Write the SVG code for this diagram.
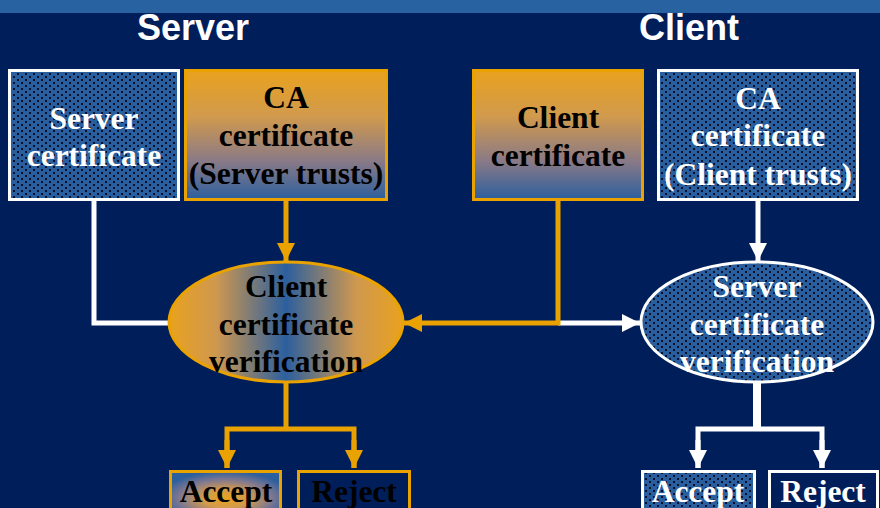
<svg xmlns="http://www.w3.org/2000/svg" width="880" height="508" viewBox="0 0 880 508">
<defs>
<pattern id="dots" width="8" height="6" patternUnits="userSpaceOnUse">
<rect width="8" height="6" fill="#2a5f9f"/>
<rect x="1" y="1" width="2" height="2" fill="#06102a"/>
<rect x="5" y="4" width="2" height="2" fill="#06102a"/>
</pattern>
<linearGradient id="vgrad" x1="0" y1="0" x2="0" y2="1">
<stop offset="0" stop-color="#e9a21e"/>
<stop offset="0.35" stop-color="#d29a4c"/>
<stop offset="0.7" stop-color="#8a7a86"/>
<stop offset="1" stop-color="#2c5f9e"/>
</linearGradient>
<linearGradient id="hgrad" x1="0" y1="0" x2="1" y2="0">
<stop offset="0" stop-color="#e9a21e"/>
<stop offset="0.2" stop-color="#cf984f"/>
<stop offset="0.5" stop-color="#2c5f9e"/>
<stop offset="0.8" stop-color="#cf984f"/>
<stop offset="1" stop-color="#e9a21e"/>
</linearGradient>
<radialGradient id="rgrad" cx="0.5" cy="0.6" r="0.6">
<stop offset="0" stop-color="#e9a21e"/>
<stop offset="0.35" stop-color="#d29a4c"/>
<stop offset="0.7" stop-color="#7f7890"/>
<stop offset="1" stop-color="#2c5f9e"/>
</radialGradient>
<marker id="ao" viewBox="0 0 18 18" refX="18" refY="9" markerWidth="18" markerHeight="18" markerUnits="userSpaceOnUse" orient="auto">
<path d="M0,0 L18,9 L0,18 Z" fill="#e9a200"/>
</marker>
<marker id="aw" viewBox="0 0 18 18" refX="18" refY="9" markerWidth="18" markerHeight="18" markerUnits="userSpaceOnUse" orient="auto">
<path d="M0,0 L18,9 L0,18 Z" fill="#ffffff"/>
</marker>
</defs>
<style>
.title{font-family:"Liberation Sans",Arial,sans-serif;font-weight:bold;font-size:36px;fill:#ffffff;text-anchor:middle}
.t{font-family:"Liberation Serif","Times New Roman",serif;font-weight:bold;font-size:31.5px;text-anchor:middle}
.w{fill:#ffffff}
.k{fill:#000000}
.ow{stroke:#e9a200;stroke-width:3}
.ww{stroke:#ffffff;stroke-width:3}
.co{fill:none;stroke:#e9a200;stroke-width:5}
.cw{fill:none;stroke:#ffffff;stroke-width:5}
</style>
<rect width="880" height="508" fill="#001f5a"/>
<rect width="880" height="13" fill="#2862a0"/>
<text class="title" x="193" y="40">Server</text>
<text class="title" x="689" y="40">Client</text>

<g id="connectors">
<path class="cw" d="M94,201 V323 H170"/>
<path class="co" d="M286,201 V261" marker-end="url(#ao)"/>
<path class="cw" d="M558,323 H640" marker-end="url(#aw)"/>
<path class="co" d="M558,201 V323 H404" marker-end="url(#ao)"/>
<path class="cw" d="M758,201 V261" marker-end="url(#aw)"/>
<path class="co" d="M286,383 V429"/>
<path class="co" d="M227,468 V429 H354 V468"/>
<path class="co" d="M227,440 V468" marker-end="url(#ao)"/>
<path class="co" d="M354,440 V468" marker-end="url(#ao)"/>
<path fill="none" stroke="#ffffff" stroke-width="8" d="M757,383 V429"/>
<path class="cw" d="M698,468 V429 H822 V468"/>
<path class="cw" d="M698,440 V468" marker-end="url(#aw)"/>
<path class="cw" d="M822,440 V468" marker-end="url(#aw)"/>
</g>

<g id="server-cert">
<rect x="9.5" y="70.5" width="169" height="129" fill="url(#dots)" class="ww"/>
<text class="t w" x="94" y="129">Server</text>
<text class="t w" x="94" y="166">certificate</text>
</g>
<g id="ca-server">
<rect x="185.5" y="70.5" width="201" height="129" fill="url(#vgrad)" class="ow"/>
<text class="t k" x="286" y="108">CA</text>
<text class="t k" x="286" y="146">certificate</text>
<text class="t k" x="286" y="184">(Server trusts)</text>
</g>
<g id="client-cert">
<rect x="473.5" y="70.5" width="169" height="129" fill="url(#vgrad)" class="ow"/>
<text class="t k" x="558" y="128">Client</text>
<text class="t k" x="558" y="166">certificate</text>
</g>
<g id="ca-client">
<rect x="658.5" y="70.5" width="199" height="129" fill="url(#dots)" class="ww"/>
<text class="t w" x="758" y="109">CA</text>
<text class="t w" x="758" y="146">certificate</text>
<text class="t w" x="758" y="185">(Client trusts)</text>
</g>
<g id="client-verify">
<ellipse cx="286" cy="322" rx="117" ry="60" fill="url(#hgrad)" class="ow"/>
<text class="t k" x="286" y="297">Client</text>
<text class="t k" x="286" y="335">certificate</text>
<text class="t k" x="286" y="372">verification</text>
</g>
<g id="server-verify">
<ellipse cx="757" cy="322" rx="116" ry="60" fill="url(#dots)" class="ww"/>
<text class="t w" x="757" y="297">Server</text>
<text class="t w" x="757" y="335">certificate</text>
<text class="t w" x="757" y="372">verification</text>
</g>
<g id="accept-left">
<rect x="170.5" y="471.5" width="110" height="45" fill="url(#rgrad)" class="ow"/>
<text class="t k" x="226" y="502">Accept</text>
</g>
<g id="reject-left">
<rect x="298.5" y="471.5" width="111" height="45" fill="#001f5a" class="ow"/>
<text class="t k" x="354" y="502">Reject</text>
</g>
<g id="accept-right">
<rect x="642.5" y="471.5" width="112" height="45" fill="url(#dots)" class="ww"/>
<text class="t w" x="698" y="502">Accept</text>
</g>
<g id="reject-right">
<rect x="769.5" y="471.5" width="108" height="45" fill="#001f5a" class="ww"/>
<text class="t w" x="823" y="502">Reject</text>
</g>
</svg>
